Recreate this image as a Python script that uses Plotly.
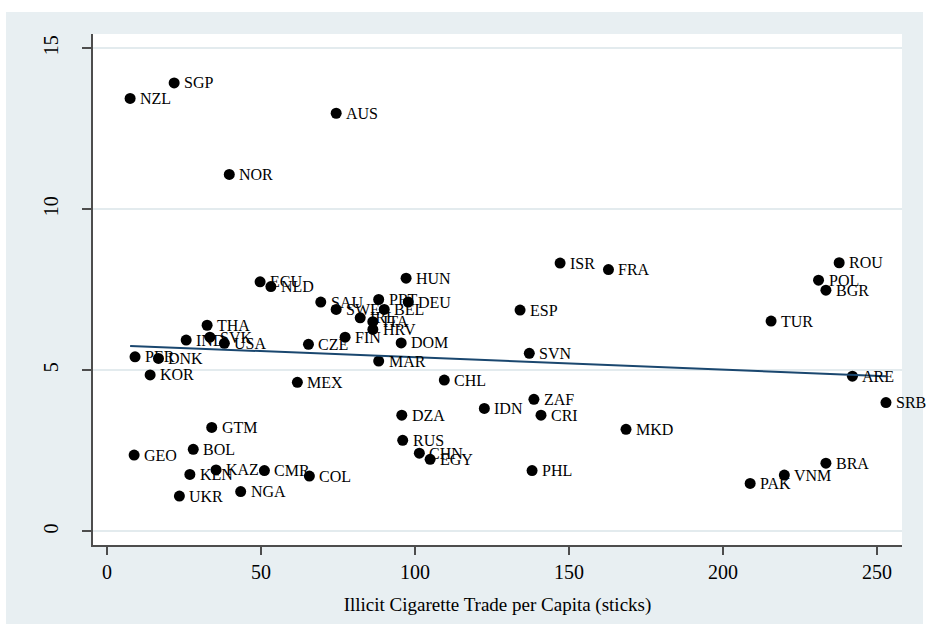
import plotly.graph_objects as go

# Country codes, illicit trade per capita (sticks) and outcome values
countries = ["NZL", "SGP", "NOR", "AUS", "ECU", "NLD", "THA", "IND", "SVK", "USA",
             "PER", "DNK", "KOR", "MEX", "GTM", "CZE", "SAU", "SWE", "IRL", "ITA",
             "HRV", "PRT", "BEL", "DEU", "HUN", "FIN", "DOM", "MAR", "CHL", "ESP",
             "SVN", "IDN", "DZA", "ZAF", "CRI", "RUS", "CHN", "EGY", "PHL", "MKD",
             "ISR", "FRA", "ROU", "POL", "BGR", "TUR", "ARE", "SRB", "BRA", "VNM",
             "PAK", "GEO", "BOL", "KEN", "KAZ", "CMR", "COL", "UKR", "NGA"]
trade = [7.5, 21.8, 39.7, 74.4, 49.7, 53.2, 32.5, 25.7, 33.4, 38.1,
         9.1, 16.7, 14.0, 61.8, 34.0, 65.4, 69.4, 74.4, 82.2, 86.3,
         86.3, 88.2, 90.0, 97.8, 97.1, 77.3, 95.5, 88.2, 109.5, 134.1,
         137.1, 122.5, 95.7, 138.6, 140.9, 96.0, 101.4, 104.9, 138.0, 168.5,
         147.1, 162.8, 237.7, 231.0, 233.4, 215.6, 242.0, 252.9, 233.4, 219.9,
         208.8, 8.8, 28.0, 26.9, 35.4, 51.1, 65.7, 23.5, 43.4]
outcome = [13.44, 13.92, 11.08, 12.98, 7.75, 7.60, 6.40, 5.94, 6.03, 5.84,
           5.42, 5.37, 4.86, 4.63, 3.23, 5.81, 7.12, 6.89, 6.63, 6.51,
           6.27, 7.20, 6.89, 7.12, 7.86, 6.03, 5.85, 5.29, 4.70, 6.87,
           5.53, 3.82, 3.61, 4.10, 3.61, 2.83, 2.43, 2.24, 1.89, 3.17,
           8.33, 8.13, 8.34, 7.80, 7.49, 6.53, 4.82, 4.00, 2.12, 1.75,
           1.49, 2.37, 2.55, 1.77, 1.91, 1.89, 1.72, 1.10, 1.24]

# Linear fit endpoints
fit_x = [min(trade), max(trade)]
fit_y = [5.76, 4.82]

x_ticks = [0, 50, 100, 150, 200, 250]
y_ticks = [0, 5, 10, 15]

SERIF = "Liberation Serif"
BG = "#e8eff2"
GRID = "#e3ebee"
AXIS = "#4d4d4d"

fig = go.Figure()

fig.add_trace(go.Scatter(
    x=trade, y=outcome, mode="markers",
    marker=dict(color="black", size=11, line=dict(width=0)),
    hoverinfo="skip", showlegend=False,
))

fig.add_trace(go.Scatter(
    x=fit_x, y=fit_y, mode="lines",
    line=dict(color="#1a476f", width=2),
    hoverinfo="skip", showlegend=False,
))

annotations = [
    dict(x=xv, y=yv, text=lab, xref="x", yref="y", showarrow=False,
         xanchor="left", yanchor="middle", xshift=8, yshift=0,
         font=dict(family=SERIF, size=16, color="black"))
    for xv, yv, lab in zip(trade, outcome, countries)
]

# Outer graph region and white plot region
shapes = [
    dict(type="rect", xref="paper", yref="paper",
         x0=-0.1075, x1=1.026, y0=-0.1546, y1=1.043,
         fillcolor=BG, line=dict(width=0), layer="below"),
    dict(type="rect", xref="paper", yref="paper",
         x0=0, x1=1, y0=0, y1=1,
         fillcolor="white", line=dict(width=0), layer="below"),
]

fig.update_layout(
    width=927, height=625,
    margin=dict(l=93, r=25, t=34, b=80),
    paper_bgcolor="white", plot_bgcolor="white",
    font=dict(family=SERIF, color="black"),
    annotations=annotations,
    shapes=shapes,
    showlegend=False,
)

fig.update_xaxes(
    range=[-4.55, 258.1], tickvals=x_ticks, ticktext=[str(t) for t in x_ticks],
    showgrid=False, zeroline=False,
    showline=True, linecolor=AXIS, linewidth=1.5,
    ticks="outside", ticklen=8, tickcolor=AXIS, tickwidth=1.5,
    tickfont=dict(family=SERIF, size=20, color="black"),
    ticklabelstandoff=0,
    title=dict(text="Illicit Cigarette Trade per Capita (sticks)",
               font=dict(family=SERIF, size=19, color="black"), standoff=16),
)

fig.update_yaxes(
    range=[-0.42, 15.44], tickvals=y_ticks, ticktext=[str(t) for t in y_ticks],
    showgrid=True, gridcolor=GRID, gridwidth=1.5, zeroline=False,
    showline=True, linecolor=AXIS, linewidth=1.5,
    ticks="outside", ticklen=9, tickcolor=AXIS, tickwidth=1.5,
    tickangle=-90,
    tickfont=dict(family=SERIF, size=20, color="black"),
    ticklabelstandoff=16,
)

fig.write_html("out.html")
